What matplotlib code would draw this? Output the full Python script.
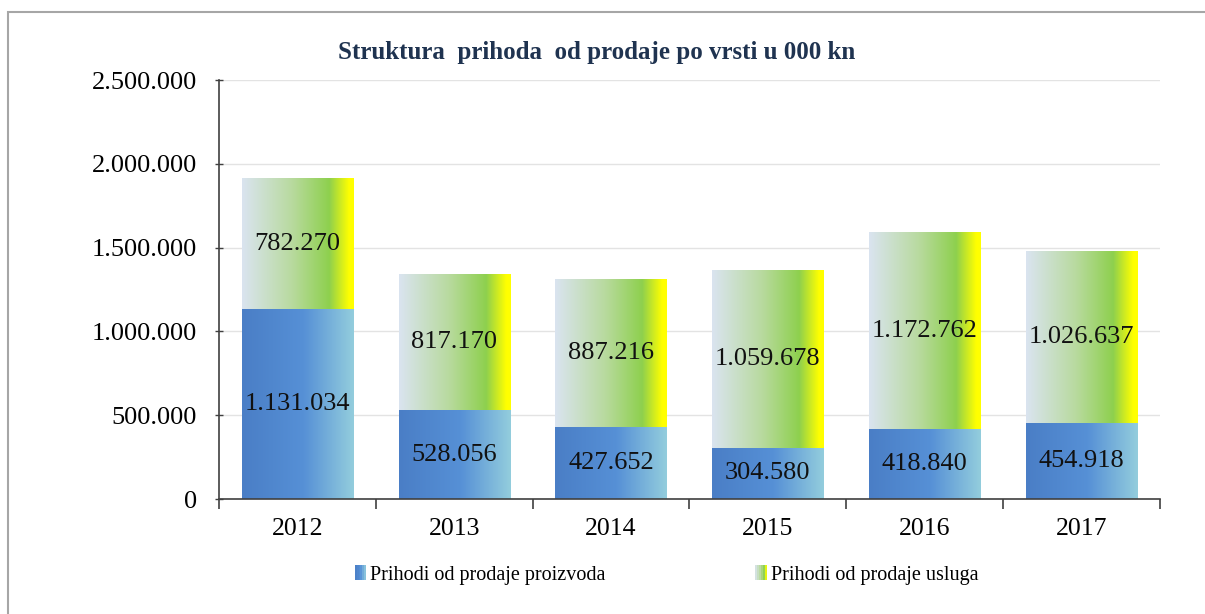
import numpy as np
import matplotlib
matplotlib.use("Agg")
import matplotlib.pyplot as plt
from matplotlib.colors import LinearSegmentedColormap
from matplotlib.patches import Rectangle
from matplotlib.legend_handler import HandlerBase
from matplotlib.ticker import FuncFormatter, MultipleLocator

years = ["2012", "2013", "2014", "2015", "2016", "2017"]
proizvodi = [1131034, 528056, 427652, 304580, 418840, 454918]
usluge = [782270, 817170, 887216, 1059678, 1172762, 1026637]
series_names = ["Prihodi od prodaje proizvoda", "Prihodi od prodaje usluga"]
title = "Struktura  prihoda  od prodaje po vrsti u 000 kn"

def fmt(v):
    return f"{int(v):,}".replace(",", ".")

plt.rcParams['font.family'] = ['Liberation Serif', 'DejaVu Serif']

blue_cmap = LinearSegmentedColormap.from_list(
    "b", [(0, "#4A7EC6"), (0.55, "#5690D6"), (1.0, "#93CDDD")])
green_cmap = LinearSegmentedColormap.from_list(
    "g", [(0, "#DAE4F0"), (0.45, "#B8DA9E"), (0.78, "#8ED04E"), (0.96, "#FFFF00"), (1.0, "#FFFF00")])

fig = plt.figure(figsize=(12.05, 6.14), dpi=100)
W, H = 1205, 614
ax = fig.add_axes([219 / W, 1 - 499 / H, (1160 - 219) / W, (499 - 80) / H])

x = np.arange(len(years))
width = 0.71
grad = np.linspace(0, 1, 256).reshape(1, -1)

b1 = ax.bar(x, proizvodi, width, color="none", edgecolor="none", zorder=3)
b2 = ax.bar(x, usluge, width, bottom=proizvodi, color="none", edgecolor="none", zorder=3)

for bars, cmap in ((b1, blue_cmap), (b2, green_cmap)):
    for r in bars:
        x0, y0 = r.get_x(), r.get_y()
        w, h = r.get_width(), r.get_height()
        im = ax.imshow(grad, cmap=cmap, aspect="auto", extent=(x0, x0 + w, y0, y0 + h),
                       interpolation="bilinear", zorder=2)
        im.set_clip_path(r)

for i in range(len(years)):
    ax.text(x[i], proizvodi[i] / 2, fmt(proizvodi[i]), ha="center", va="center",
            fontsize=19, color="#111111", zorder=5)
    ax.text(x[i], proizvodi[i] + usluge[i] / 2, fmt(usluge[i]), ha="center", va="center",
            fontsize=19, color="#111111", zorder=5)

ax.set_xlim(-0.5, len(years) - 0.5)
ax.set_ylim(0, 2500000)
ax.yaxis.set_major_locator(MultipleLocator(500000))
ax.yaxis.set_major_formatter(FuncFormatter(lambda v, p: fmt(v)))
ax.grid(axis="y", color="#E3E3E3", linewidth=1, zorder=0)
ax.set_axisbelow(True)

ax.set_xticks(x)
ax.set_xticklabels(years)
ax.set_xticks(np.arange(-0.5, len(years), 1), minor=True)
ax.tick_params(axis="x", which="major", length=0, pad=14, labelsize=18.5)
ax.tick_params(axis="x", which="minor", length=7, width=1.2, color="#404040", direction="out")
ax.tick_params(axis="y", length=6, width=1, color="#404040", labelsize=19, pad=13, direction="inout")

for s in ("top", "right"):
    ax.spines[s].set_visible(False)
for s in ("left", "bottom"):
    ax.spines[s].set_color("#404040")
    ax.spines[s].set_linewidth(1.2)

fig.text(597 / W, 1 - 52 / H, title, ha="center", va="center", fontsize=18,
         fontweight="bold", color="#1F3350")


class GradHandler(HandlerBase):
    def __init__(self, cmap):
        super().__init__()
        self.cmap = cmap

    def create_artists(self, legend, orig_handle, xdescent, ydescent, width, height, fontsize, trans):
        n = 6
        arts = []
        w = 8
        x0 = width - w
        for k in range(n):
            c = self.cmap((k + 0.5) / n)
            arts.append(Rectangle((x0 + k * w / n, -ydescent), w / n, height * 1.0,
                                  facecolor=c, edgecolor="none", transform=trans))
        return arts


h1 = Rectangle((0, 0), 1, 1)
h2 = Rectangle((0, 0), 1, 1)
fig.legend([h1, h2], series_names, loc="center", bbox_to_anchor=(666 / W, 1 - 575 / H),
           ncol=2, frameon=False, fontsize=14.5, handlelength=0.6, handletextpad=0.2,
           columnspacing=7.4,
           handler_map={h1: GradHandler(blue_cmap), h2: GradHandler(green_cmap)})

border = Rectangle((8 / W, -0.1), 1.2, 1 - 12 / H + 0.1, transform=fig.transFigure,
                   facecolor="none", edgecolor="#A6A6A6", linewidth=1.5)
fig.patches.append(border)

fig.savefig("out.png", dpi=100, facecolor="white")
